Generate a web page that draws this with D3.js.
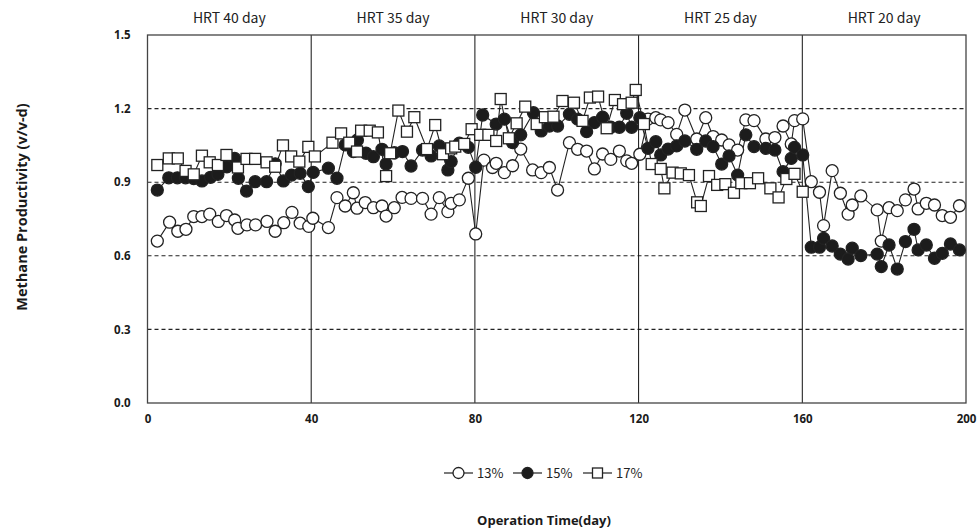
<!DOCTYPE html>
<html>
<head>
<meta charset="utf-8">
<script src="https://cdn.jsdelivr.net/npm/d3@7"></script>
<style>
  html, body { margin: 0; padding: 0; background: #fff; }
  svg { display: block; }
</style>
</head>
<body>
<svg id="chart" width="980" height="530"></svg>
<script>
// ---------- data ----------
const hrtLabels = ["HRT 40 day", "HRT 35 day", "HRT 30 day", "HRT 25 day", "HRT 20 day"];
const hrtBounds = [0, 40, 80, 120, 160, 200];
const xTicks = [0, 40, 80, 120, 160, 200];
const yTicks = [0.0, 0.3, 0.6, 0.9, 1.2, 1.5];
const gridValues = [0.3, 0.6, 0.9, 1.2];
const seriesNames = ["13%", "15%", "17%"];

const days13 = [2.4, 5.4, 7.4, 9.4, 11.3, 13.3, 15.2, 17.3, 19.3, 21.3, 22.1, 24.3, 26.4, 29.2, 31.2, 33.3, 35.3, 37.3, 39.4, 40.4,
  44.2, 46.3, 48.3, 50.3, 51.2, 53.2, 55.2, 57.3, 58.3, 60.3, 62.2, 64.4, 67.2, 69.3, 71.3, 73.4, 74.2, 76.2, 78.4, 80.2,
  82.2, 84.3, 85.2, 87.2, 89.2, 91.2, 94.1, 96.2, 98.2, 100.2, 103.1, 105.1, 107.3, 109.2, 111.2, 113.2, 115.3, 117.1, 118.3, 120.3,
  122.3, 124.2, 125.4, 127.2, 129.3, 131.3, 134.2, 136.4, 138.2, 140.3, 142.1, 144.2, 146.2, 148.2, 151.1, 153.3, 155.3, 157.3, 158.1, 160.1,
  162.2, 164.2, 165.2, 167.3, 169.3, 171.2, 172.2, 174.3, 178.3, 179.3, 181.2, 183.2, 185.2, 187.3, 188.3, 190.3, 192.3, 194.2, 196.2, 198.4];
const values13 = [0.66, 0.737, 0.70, 0.708, 0.76, 0.76, 0.77, 0.74, 0.764, 0.746, 0.712, 0.726, 0.726, 0.74, 0.70, 0.735, 0.777, 0.733, 0.72, 0.753,
  0.715, 0.837, 0.803, 0.857, 0.794, 0.817, 0.796, 0.803, 0.762, 0.796, 0.838, 0.834, 0.834, 0.77, 0.837, 0.78, 0.814, 0.828, 0.916, 0.689,
  0.99, 0.96, 0.977, 0.939, 0.967, 1.035, 0.95, 0.939, 0.96, 0.868, 1.061, 1.034, 1.027, 0.954, 1.015, 0.993, 1.027, 0.987, 0.977, 1.014,
  1.157, 1.163, 1.154, 1.143, 1.095, 1.194, 1.076, 1.163, 1.086, 1.072, 1.052, 1.031, 1.154, 1.151, 1.076, 1.082, 1.129, 1.056, 1.151, 1.158,
  0.902, 0.859, 0.723, 0.947, 0.855, 0.77, 0.807, 0.844, 0.787, 0.66, 0.796, 0.784, 0.828, 0.872, 0.791, 0.814, 0.807, 0.764, 0.757, 0.804];

const days15 = [2.4, 5.2, 7.3, 9.3, 11.3, 13.3, 15.4, 17.2, 19.4, 21.3, 22.2, 24.2, 26.3, 29.1, 31.2, 33.2, 35.2, 37.3, 39.3, 40.5,
  44.2, 46.3, 48.3, 50.3, 51.3, 53.4, 55.2, 57.3, 58.3, 60.3, 62.3, 64.4, 67.2, 69.3, 71.3, 73.4, 74.2, 76.2, 78.4, 80.2,
  81.9, 85.2, 87.2, 89.2, 91.2, 94.3, 96.2, 98.2, 100.2, 103.1, 105.1, 107.3, 109.2, 111.2, 113.2, 115.3, 117.1, 118.3, 120.3,
  122.3, 124.2, 125.4, 127.2, 129.3, 131.3, 134.2, 136.4, 138.2, 140.3, 142.1, 144.2, 146.2, 148.2, 151.1, 153.3, 155.3, 157.3, 158.1, 160.1,
  162.2, 164.2, 165.2, 167.3, 169.3, 171.2, 172.2, 174.3, 178.3, 179.3, 181.2, 183.2, 185.2, 187.3, 188.3, 190.3, 192.3, 194.2, 196.2, 198.4];
const values15 = [0.868, 0.918, 0.918, 0.918, 0.915, 0.905, 0.92, 0.932, 0.963, 0.997, 0.916, 0.864, 0.902, 0.902, 0.975, 0.905, 0.929, 0.936, 0.882, 0.94,
  0.957, 0.916, 1.052, 1.025, 1.072, 1.018, 1.004, 1.034, 0.974, 1.02, 1.025, 0.966, 1.031, 1.007, 1.048, 0.95, 0.984, 1.059, 1.042, 0.961,
  1.174, 1.137, 1.157, 1.061, 1.093, 1.183, 1.109, 1.129, 1.129, 1.177, 1.157, 1.106, 1.143, 1.165, 1.124, 1.124, 1.181, 1.124, 1.163,
  1.038, 1.065, 1.011, 1.035, 1.048, 1.068, 1.034, 1.068, 1.045, 0.974, 1.007, 0.929, 1.093, 1.045, 1.038, 1.031, 0.943, 0.997, 1.042, 1.011,
  0.635, 0.635, 0.671, 0.64, 0.607, 0.587, 0.631, 0.601, 0.607, 0.556, 0.644, 0.546, 0.658, 0.708, 0.624, 0.644, 0.59, 0.61, 0.648, 0.624];

const days17 = [2.4, 5.2, 7.4, 9.3, 11.3, 13.3, 15.2, 17.2, 19.3, 22.1, 24.2, 26.3, 29.1, 31.2, 33.1, 35.1, 37.1, 39.3, 40.9,
  45.2, 47.3, 49.3, 51.2, 52.2, 54.3, 56.3, 58.3, 59.3, 61.3, 63.4, 65.2, 68.3, 70.3, 72.2, 74.2, 75.2, 77.4, 79.2, 81.3,
  83.3, 85.2, 86.3, 88.3, 90.2, 92.3, 95.1, 97.1, 99.2, 101.4, 104.2, 106.3, 108.1, 110.1, 112.2, 114.2, 116.2, 118.3, 119.3, 121.3,
  123.2, 125.4, 126.3, 128.3, 130.3, 132.3, 134.3, 135.2, 137.2, 139.2, 141.2, 143.3, 145.1, 147.2, 149.2, 152.2, 154.2, 156.1, 158.1, 160.1];
const values17 = [0.97, 0.997, 0.997, 0.946, 0.932, 1.008, 0.981, 0.97, 1.011, 0.96, 0.995, 0.995, 0.981, 0.963, 1.05, 1.005, 0.984, 1.044, 1.005,
  1.061, 1.099, 1.061, 1.025, 1.11, 1.11, 1.103, 0.925, 1.018, 1.192, 1.106, 1.165, 1.035, 1.133, 1.014, 1.038, 1.045, 1.056, 1.116, 1.093,
  1.093, 1.068, 1.239, 1.079, 1.14, 1.208, 1.137, 1.165, 1.167, 1.231, 1.224, 1.15, 1.245, 1.249, 1.12, 1.235, 1.218, 1.224, 1.276, 1.137,
  0.974, 0.954, 0.875, 0.939, 0.936, 0.929, 0.818, 0.803, 0.925, 0.889, 0.892, 0.857, 0.896, 0.896, 0.916, 0.875, 0.838, 0.913, 0.934, 0.861];

// ---------- layout ----------
const svg = d3.select("#chart");
const pL = 147.5, pR = 966, pT = 35, pB = 403;
const x = d3.scaleLinear().domain([0, 200]).range([pL, pR]);
const y = d3.scaleLinear().domain([0, 1.5]).range([pB, pT]);
const ink = "#1a1a1a";
const boldFont = "'Open Sans', 'Noto Sans', sans-serif";
const krFont = "'Noto Sans CJK KR', 'Noto Sans', sans-serif";

function zip(d, v) { const n = Math.min(d.length, v.length); return d3.range(n).map(i => ({ d: d[i], v: v[i] })); }
const series = [zip(days13, values13), zip(days15, values15), zip(days17, values17)];

// gridlines
svg.append("g").selectAll("line").data(gridValues).join("line")
  .attr("x1", pL).attr("x2", pR)
  .attr("y1", d => y(d)).attr("y2", d => y(d))
  .attr("stroke", "#222").attr("stroke-width", 1.1).attr("stroke-dasharray", "4,3");

// HRT separators
svg.append("g").selectAll("line").data(hrtBounds.slice(1, -1)).join("line")
  .attr("x1", d => x(d)).attr("x2", d => x(d))
  .attr("y1", pT).attr("y2", pB)
  .attr("stroke", "#111").attr("stroke-width", 1);

// frame
svg.append("rect").attr("x", pL).attr("y", pT)
  .attr("width", pR - pL).attr("height", pB - pT)
  .attr("fill", "none").attr("stroke", "#444").attr("stroke-width", 1.3);

// axes (labels only)
const yAxis = d3.axisLeft(y).tickValues(yTicks).tickFormat(d3.format(".1f")).tickSize(0).tickPadding(17);
const gy = svg.append("g").attr("transform", `translate(${pL},0)`).call(yAxis);
gy.select(".domain").remove();
gy.selectAll("text").attr("font-family", boldFont).attr("font-weight", 700).attr("font-size", 11.5).attr("fill", ink);

const xAxis = d3.axisBottom(x).tickValues(xTicks).tickFormat(d3.format("d")).tickSize(0).tickPadding(12);
const gx = svg.append("g").attr("transform", `translate(0,${pB})`).call(xAxis);
gx.select(".domain").remove();
gx.selectAll("text").attr("font-family", boldFont).attr("font-weight", 700).attr("font-size", 11.5).attr("fill", ink);

// HRT labels
svg.append("g").selectAll("text").data(hrtLabels).join("text")
  .attr("x", (d, i) => x((hrtBounds[i] + hrtBounds[i + 1]) / 2))
  .attr("y", 23)
  .attr("text-anchor", "middle")
  .attr("font-family", krFont).attr("font-size", 14).attr("fill", "#222")
  .text(d => d);

// series lines
const line = d3.line().x(p => x(p.d)).y(p => y(p.v));
const plot = svg.append("g");
series.forEach((s, i) => {
  plot.append("path").datum(s).attr("d", line)
    .attr("fill", "none").attr("stroke", "#222").attr("stroke-width", 1.1);
});

function drawMarker(g, kind, cx, cy, r) {
  if (kind === 2) {
    g.append("rect").attr("x", cx - r).attr("y", cy - r).attr("width", 2 * r).attr("height", 2 * r)
      .attr("fill", "#fff").attr("stroke", "#222").attr("stroke-width", 1.3);
  } else {
    g.append("circle").attr("cx", cx).attr("cy", cy).attr("r", r)
      .attr("fill", kind === 1 ? "#1c1c1c" : "#fff").attr("stroke", "#222").attr("stroke-width", 1.3);
  }
}
series.forEach((s, i) => {
  const g = plot.append("g");
  s.forEach(p => drawMarker(g, i, x(p.d), y(p.v), i === 2 ? 5.5 : 6));
});

// legend
const legendX = [444, 513, 583];
const lg = svg.append("g");
seriesNames.forEach((name, i) => {
  const lx = legendX[i], ly = 473;
  lg.append("line").attr("x1", lx).attr("x2", lx + 29).attr("y1", ly).attr("y2", ly)
    .attr("stroke", "#222").attr("stroke-width", 1.2);
  drawMarker(lg, i, lx + 14.5, ly, i === 2 ? 5 : 5.5);
  lg.append("text").attr("x", lx + 33).attr("y", ly + 4.5)
    .attr("font-family", krFont).attr("font-size", 13).attr("fill", "#222").text(name);
});

// axis titles
svg.append("text").attr("x", 544).attr("y", 525).attr("text-anchor", "middle")
  .attr("font-family", boldFont).attr("font-weight", 700).attr("font-size", 13).attr("fill", ink)
  .text("Operation Time(day)");
svg.append("text").attr("transform", "translate(21,207) rotate(-90)").attr("text-anchor", "middle")
  .attr("dominant-baseline", "central")
  .attr("font-family", boldFont).attr("font-weight", 700).attr("font-size", 14.5).attr("fill", ink)
  .text("Methane Productivity (v/v-d)");
</script>
</body>
</html>
